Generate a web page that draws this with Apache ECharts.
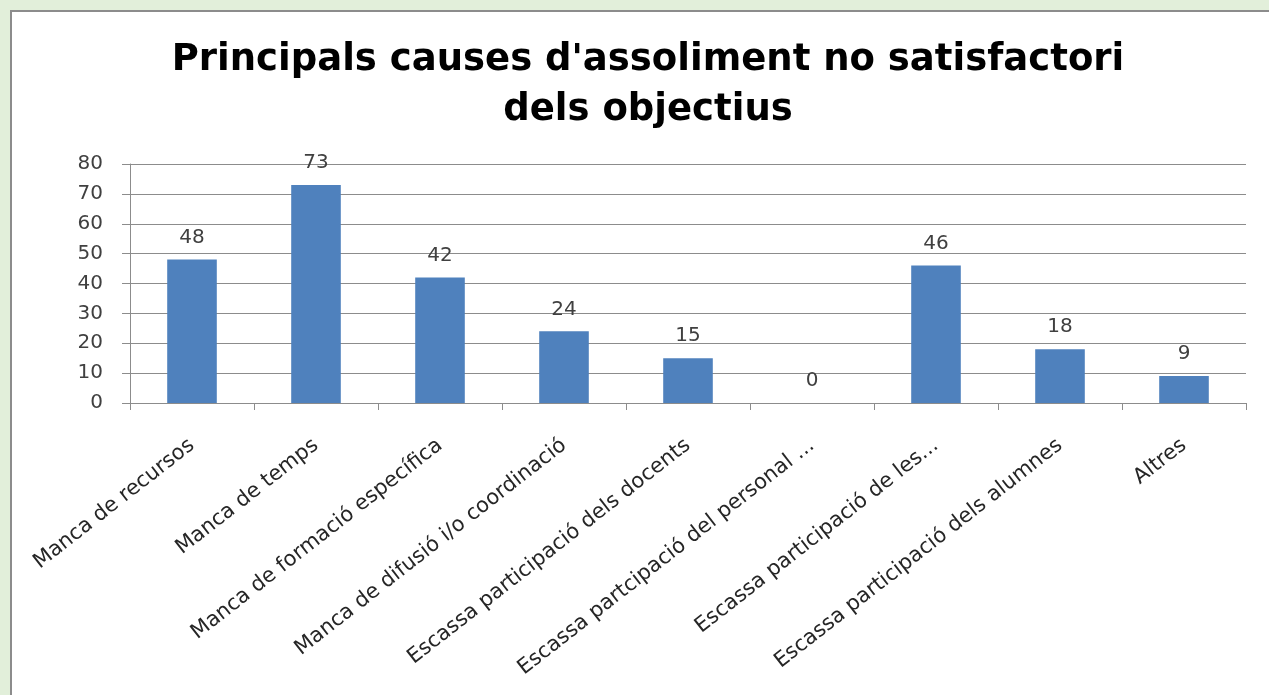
<!DOCTYPE html>
<html>
<head>
<meta charset="utf-8">
<script src="https://cdn.jsdelivr.net/npm/echarts@6/dist/echarts.min.js"></script>
<style>
html,body{margin:0;padding:0;width:1269px;height:695px;overflow:hidden;background:#e2efda;}
#panel{position:absolute;left:10px;top:10px;width:1270px;height:700px;background:#fff;border-top:2px solid #8c8c8c;border-left:2px solid #8c8c8c;box-sizing:border-box;}
#chart{position:absolute;left:0;top:0;width:1269px;height:695px;}
</style>
</head>
<body>
<div id="panel"></div>
<div id="chart"></div>
<script>
const titleText = "Principals causes d'assoliment no satisfactori\ndels objectius";
const categories = [
  "Manca de recursos",
  "Manca de temps",
  "Manca de formació específica",
  "Manca de difusió i/o coordinació",
  "Escassa participació dels docents",
  "Escassa partcipació del personal ...",
  "Escassa participació de les...",
  "Escassa participació dels alumnes",
  "Altres"
];
const values = [48, 73, 42, 24, 15, 0, 46, 18, 9];
const yTicks = {min: 0, max: 80, interval: 10};

const chart = echarts.init(document.getElementById('chart'), null, {renderer: 'canvas'});
chart.setOption({
  backgroundColor: 'transparent',
  animation: false,
  title: {
    text: titleText,
    left: 643,
    textAlign: 'center',
    top: 30,
    textStyle: {
      fontFamily: 'DejaVu Sans',
      fontWeight: 'bold',
      fontSize: 37,
      lineHeight: 50,
      color: '#000'
    }
  },
  grid: {left: 130, right: 23, top: 164, bottom: 292},
  xAxis: {
    type: 'category',
    data: categories,
    boundaryGap: true,
    axisLine: {lineStyle: {color: '#8c8c8c', width: 1}},
    axisTick: {show: true, alignWithLabel: false, length: 7, lineStyle: {color: '#8c8c8c'}},
    axisLabel: {
      interval: 0,
      rotate: 38,
      margin: 40,
      fontFamily: 'DejaVu Sans',
      fontSize: 21,
      color: '#262626'
    }
  },
  yAxis: {
    type: 'value',
    min: yTicks.min,
    max: yTicks.max,
    interval: yTicks.interval,
    axisLine: {show: true, lineStyle: {color: '#8c8c8c', width: 1}},
    axisTick: {show: true, length: 8, lineStyle: {color: '#8c8c8c'}},
    splitLine: {lineStyle: {color: '#8c8c8c', width: 1}},
    axisLabel: {
      margin: 27,
      fontFamily: 'DejaVu Sans',
      fontSize: 20,
      color: '#404040'
    }
  },
  series: [{
    type: 'bar',
    data: values,
    barWidth: '40%',
    itemStyle: {color: '#4f81bd'},
    label: {
      show: true,
      position: 'top',
      distance: 12,
      fontFamily: 'DejaVu Sans',
      fontSize: 20,
      color: '#404040'
    }
  }]
});
</script>
</body>
</html>
